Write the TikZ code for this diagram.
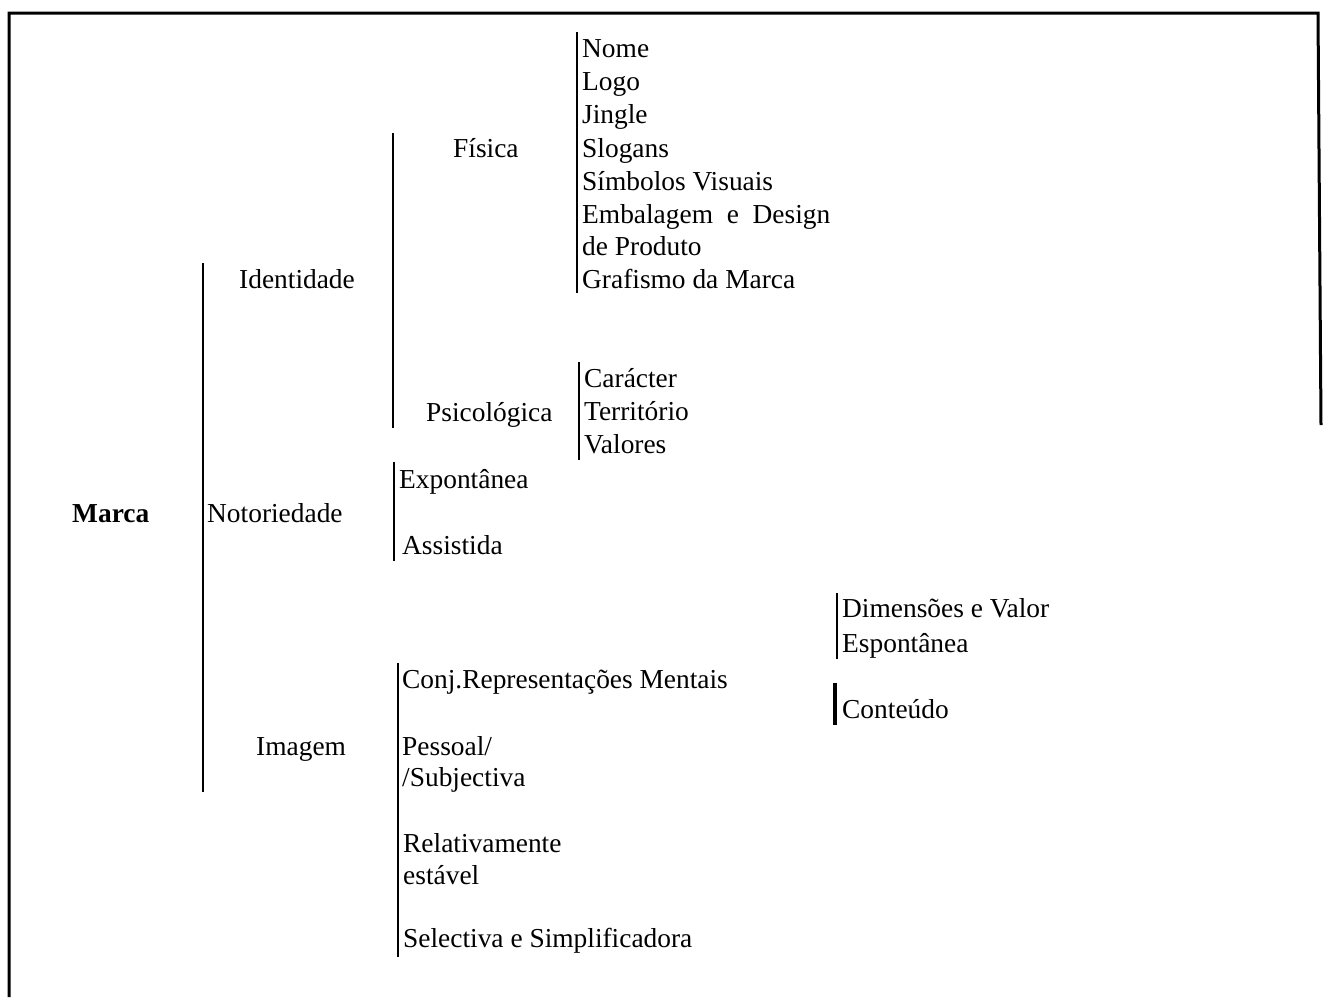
\documentclass[tikz,border=0pt]{standalone}
\usepackage{fontspec}
\setmainfont{Liberation Serif}
\begin{document}
\begin{tikzpicture}[x=1pt,y=-1pt,
  lbl/.style={anchor=base west, inner sep=0pt, font=\fontsize{27.4}{32}\selectfont},
  bar/.style={line width=2.4pt},
  thickbar/.style={line width=3.2pt},
  frame/.style={line width=3pt}]
\useasboundingbox (0,0) rectangle (1326,997);

% outer frame (open at the bottom)
\coordinate (fbl) at (9,997);
\coordinate (ftl) at (9,13);
\coordinate (ftr) at (1318,13);
\coordinate (fbr) at (1321,425);
\draw[frame] (fbl) -- (ftl) -- (ftr) -- (fbr);

% level 0
\node[lbl, font=\fontsize{27.4}{32}\selectfont\bfseries] (marca) at (72,522) {Marca};

% level 1
\coordinate (b1t) at (203,263);
\coordinate (b1b) at (203,792);
\draw[bar] (b1t) -- (b1b);
\node[lbl] (ident) at (239,288) {Identidade};
\node[lbl] (notor) at (207,522) {Notoriedade};
\node[lbl] (imag)  at (256,755) {Imagem};

% Identidade
\coordinate (b2t) at (393,133);
\coordinate (b2b) at (393,428);
\draw[bar] (b2t) -- (b2b);
\node[lbl] (fisica) at (453,157) {Física};
\node[lbl] (psico)  at (426,421) {Psicológica};

% Física
\coordinate (b3t) at (577,32);
\coordinate (b3b) at (577,293);
\draw[bar] (b3t) -- (b3b);
\node[lbl] (nome)  at (582,57)  {Nome};
\node[lbl] (logo)  at (582,90)  {Logo};
\node[lbl] (jingle) at (582,123) {Jingle};
\node[lbl] (slog)  at (582,157) {Slogans};
\node[lbl] (simb)  at (582,190) {Símbolos Visuais};
\node[lbl] (emb)   at (582,223) {Embalagem \ e \ Design};
\node[lbl] (prod)  at (582,255) {de Produto};
\node[lbl] (graf)  at (582,288) {Grafismo da Marca};

% Psicológica
\coordinate (b4t) at (579,362);
\coordinate (b4b) at (579,460);
\draw[bar] (b4t) -- (b4b);
\node[lbl] (carac) at (584,387) {Carácter};
\node[lbl] (terr)  at (584,420) {Território};
\node[lbl] (valor) at (584,453) {Valores};

% Notoriedade
\coordinate (b5t) at (394,462);
\coordinate (b5b) at (394,561);
\draw[bar] (b5t) -- (b5b);
\node[lbl] (expo)  at (399,488) {Expontânea};
\node[lbl] (assis) at (402,554) {Assistida};

% Imagem
\coordinate (b6t) at (398,663);
\coordinate (b6b) at (398,957);
\draw[bar] (b6t) -- (b6b);
\node[lbl] (conj)  at (402,688) {Conj.Representações Mentais};
\node[lbl] (pess)  at (402,755) {Pessoal/};
\node[lbl] (subj)  at (402,786) {/Subjectiva};
\node[lbl] (relat) at (403,852) {Relativamente};
\node[lbl] (estav) at (403,884) {estável};
\node[lbl] (selec) at (403,947) {Selectiva e Simplificadora};

% Conj. Representações Mentais
\coordinate (b7t) at (837,593);
\coordinate (b7b) at (837,659);
\draw[bar] (b7t) -- (b7b);
\node[lbl] (dimen) at (842,617) {Dimensões e Valor};
\node[lbl] (espon) at (842,652) {Espontânea};

\coordinate (b8t) at (835,683);
\coordinate (b8b) at (835,725);
\draw[thickbar] (b8t) -- (b8b);
\node[lbl] (conte) at (842,718) {Conteúdo};
\end{tikzpicture}
\end{document}
